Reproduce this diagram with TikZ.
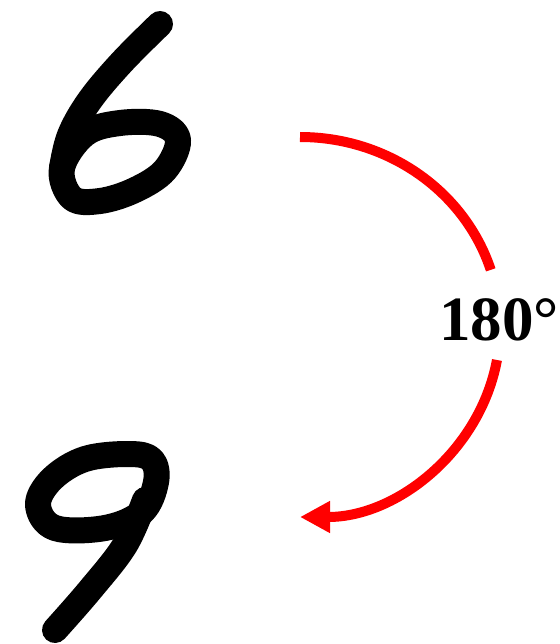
\documentclass[tikz,border=0pt]{standalone}
\usepackage{fontspec}
\setmainfont{Liberation Serif}
\usetikzlibrary{arrows.meta,calc}
\begin{document}
\begin{tikzpicture}[x=1pt,y=-1pt,
  digitstroke/.style={line width=26pt,line cap=round,line join=round,black},
  rotarc/.style={line width=10pt,red},
  anglelabel/.style={font=\fontsize{63}{63}\selectfont\bfseries,inner sep=0pt,anchor=base west}]
\useasboundingbox (0,0) rectangle (559,644);
% digit 6
\draw[digitstroke] plot[smooth,tension=0.6] coordinates {(160,24) (122,62) (90,100) (70,135) (62,168)};
\draw[digitstroke] plot[smooth cycle,tension=0.6] coordinates {(62,168) (72,198) (100,201) (135,190) (165,170) (178,140) (160,124) (120,123) (85,134)};
% digit 9
\draw[digitstroke] plot[smooth cycle,tension=0.6] coordinates {(130,454) (85,459) (52,479) (38,505) (55,528) (105,528) (142,512) (156,482) (152,460)};
\draw[digitstroke] plot[smooth,tension=0.6] coordinates {(145,500) (125,545) (90,590) (55,630)};
% rotation arc
\coordinate (c) at (300,327);
\coordinate (s) at (300,137);
\coordinate (g) at ($(c)+(10:200 and 190)$);
\draw[rotarc] (s) arc[start angle=-90,end angle=-17.5,x radius=200,y radius=190];
\draw[rotarc,-{Triangle[length=30pt,width=30pt]}] (g) arc[start angle=10,end angle=90,x radius=200,y radius=190];
\node[anglelabel] (lbl) at (439,340) {180°};
\end{tikzpicture}
\end{document}
